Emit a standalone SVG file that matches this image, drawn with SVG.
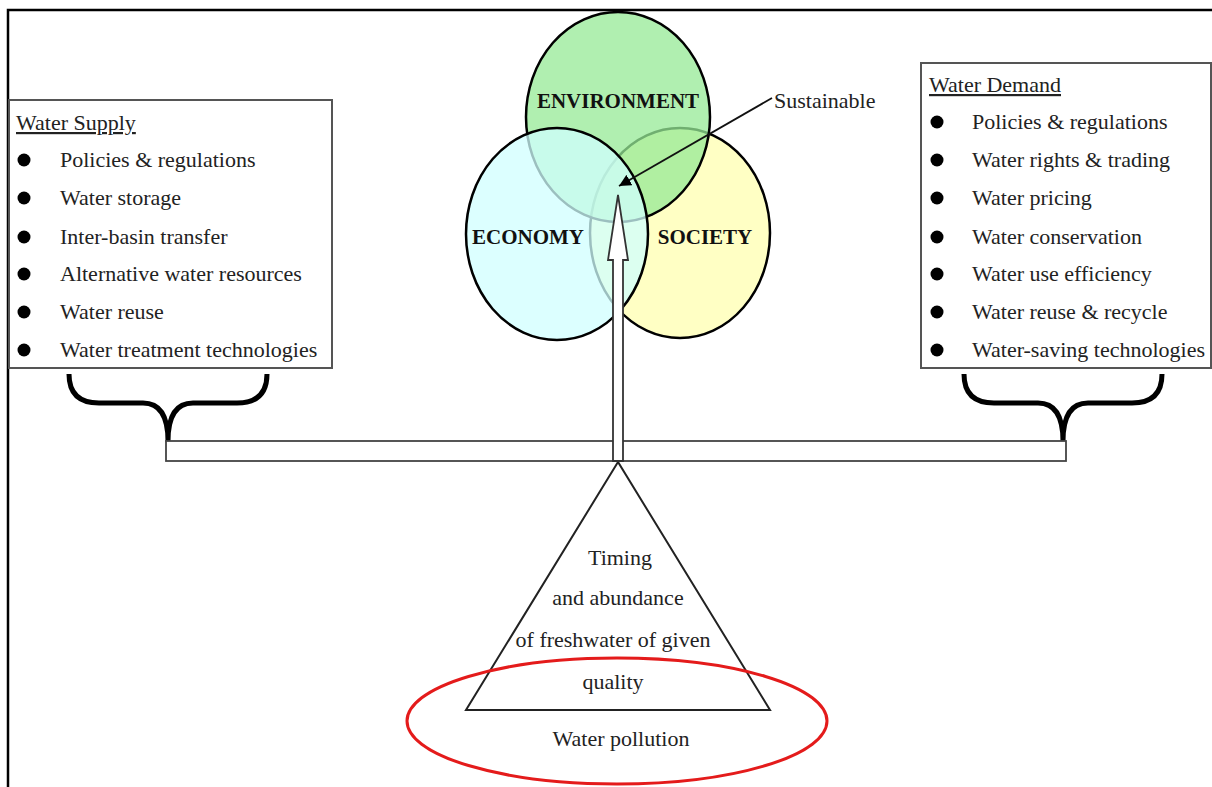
<svg xmlns="http://www.w3.org/2000/svg" width="1212" height="787" viewBox="0 0 1212 787">
<defs>
<style>
text{font-family:"Liberation Serif","Times New Roman",serif;fill:#222;}
.item{font-size:22px;}
.title{font-size:22px;text-decoration:underline;}
.cap{font-size:21px;font-weight:bold;text-anchor:middle;fill:#111;}
.mid{text-anchor:middle;font-size:22px;}
.box{fill:#fff;stroke:#555;stroke-width:2;}
.brace{fill:none;stroke:#000;stroke-width:5;stroke-linejoin:round;stroke-linecap:butt;}
.circ{stroke:#000;stroke-width:2.5;fill-opacity:0.75;}
</style>
<marker id="tri" viewBox="0 0 10 10" refX="10" refY="5" markerWidth="12" markerHeight="12" markerUnits="userSpaceOnUse" orient="auto">
<path d="M0,0 L10,5 L0,10 z" fill="#000"/>
</marker>
</defs>
<rect width="1212" height="787" fill="#fff"/>
<path d="M8,787 L8,10 L1212,10" fill="none" stroke="#000" stroke-width="2.5"/>

<g id="venn">
<ellipse id="society" class="circ" cx="680" cy="233" rx="90" ry="105" fill="#ffffb0"/>
<ellipse id="environment" class="circ" cx="618" cy="117" rx="92" ry="105" fill="#96ea96"/>
<ellipse id="economy" class="circ" cx="557" cy="234" rx="91" ry="106" fill="#d0ffff"/>
<text class="cap" x="618" y="108">ENVIRONMENT</text>
<text class="cap" x="528" y="244">ECONOMY</text>
<text class="cap" x="705" y="244">SOCIETY</text>
</g>

<g id="water-supply">
<rect class="box" x="9" y="100" width="323" height="268"/>
<text class="title" x="16" y="130">Water Supply</text>
<g fill="#000">
<circle cx="24" cy="160" r="6.5"/><circle cx="24" cy="198" r="6.5"/><circle cx="24" cy="237" r="6.5"/>
<circle cx="24" cy="274" r="6.5"/><circle cx="24" cy="312" r="6.5"/><circle cx="24" cy="350" r="6.5"/>
</g>
<text class="item" x="60" y="167">Policies &amp; regulations</text>
<text class="item" x="60" y="205">Water storage</text>
<text class="item" x="60" y="244">Inter-basin transfer</text>
<text class="item" x="60" y="281">Alternative water resources</text>
<text class="item" x="60" y="319">Water reuse</text>
<text class="item" x="60" y="357">Water treatment technologies</text>
</g>

<g id="water-demand">
<rect class="box" x="921" y="63" width="290" height="305"/>
<text class="title" x="929" y="92">Water Demand</text>
<g fill="#000">
<circle cx="937" cy="122" r="6.5"/><circle cx="937" cy="160" r="6.5"/><circle cx="937" cy="198" r="6.5"/>
<circle cx="937" cy="237" r="6.5"/><circle cx="937" cy="274" r="6.5"/><circle cx="937" cy="312" r="6.5"/>
<circle cx="937" cy="350" r="6.5"/>
</g>
<text class="item" x="972" y="129">Policies &amp; regulations</text>
<text class="item" x="972" y="167">Water rights &amp; trading</text>
<text class="item" x="972" y="205">Water pricing</text>
<text class="item" x="972" y="244">Water conservation</text>
<text class="item" x="972" y="281">Water use efficiency</text>
<text class="item" x="972" y="319">Water reuse &amp; recycle</text>
<text class="item" x="972" y="357">Water-saving technologies</text>
</g>

<g id="braces">
<path class="brace" d="M69,374 Q69,403 99,403 L143,403 Q168,403 168,441 Q168,403 193,403 L237,403 Q267,403 267,374"/>
<path class="brace" d="M964,374 Q964,403 994,403 L1038,403 Q1063,403 1063,441 Q1063,403 1088,403 L1132,403 Q1162,403 1162,374"/>
</g>

<g id="beam">
<rect x="166" y="441" width="900" height="20" fill="#fff" stroke="#444" stroke-width="1.8"/>
</g>

<g id="fulcrum">
<polygon points="618,462 466,710 770,710" fill="#fff" stroke="#222" stroke-width="2"/>
<text class="mid" x="620" y="565">Timing</text>
<text class="mid" x="618" y="605">and abundance</text>
<text class="mid" x="613" y="647">of freshwater of given</text>
<text class="mid" x="613" y="689">quality</text>
</g>

<g id="pollution">
<ellipse cx="617" cy="721" rx="210" ry="63" fill="none" stroke="#e41b1b" stroke-width="3"/>
<text class="mid" x="621" y="746">Water pollution</text>
</g>

<g id="connectors">
<path d="M613,461 L613,260 L608,260 L618,195 L628,260 L623,260 L623,461 Z" fill="#fff" stroke="#333" stroke-width="1.8" stroke-linejoin="miter"/>
<line x1="772" y1="98" x2="619" y2="186" stroke="#111" stroke-width="1.8" marker-end="url(#tri)"/>
</g>
<g id="sustainable">
<text x="774" y="108" style="font-size:22px">Sustainable</text>
</g>
</svg>
